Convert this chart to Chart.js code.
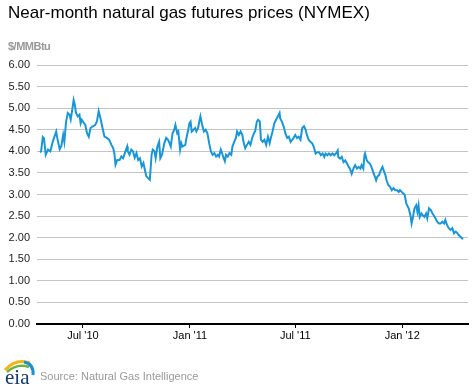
<!DOCTYPE html>
<html>
<head>
<meta charset="utf-8">
<script src="https://cdn.jsdelivr.net/npm/chart.js@4.4.1/dist/chart.umd.min.js"></script>
<style>
    html, body { margin: 0; padding: 0; background: #fff; }
    #wrap { position: relative; width: 472px; height: 386px; overflow: hidden; font-family: Arial, "Liberation Sans", sans-serif; }
    #chart { position: absolute; left: 0; top: 0; }
    .title { position: absolute; left: 8px; top: 3px; font-size: 17px; color: #000; white-space: nowrap; }
    .unit { position: absolute; left: 8px; top: 40px; font-size: 11px; font-weight: bold; color: #999; letter-spacing: -0.5px; }
    .source { position: absolute; left: 40px; top: 370px; font-size: 11px; color: #999; }
    .logo { position: absolute; left: 2px; top: 358px; }
</style>
</head>
<body>
<div id="wrap">
    <canvas id="chart" width="472" height="386"></canvas>
    <div class="title">Near-month natural gas futures prices (NYMEX)</div>
    <div class="unit">$/MMBtu</div>
    <svg class="logo" width="34" height="28" viewBox="0 0 34 28">
        <path d="M3 12 Q14 0 28 5" stroke="#f2b31c" stroke-width="3" fill="none"/>
        <path d="M5 14 Q15 5 27 9" stroke="#6cb33f" stroke-width="2.5" fill="none"/>
        <path d="M22 4 Q32 6 31 17" stroke="#1b8fd2" stroke-width="3" fill="none"/>
        <text x="3" y="26" font-family="Liberation Serif, DejaVu Serif, serif" font-size="21" fill="#12386e">eia</text>
    </svg>
    <div class="source">Source: Natural Gas Intelligence</div>
</div>
<script>
// days counted from 13 Apr 2010, prices in $/MMBtu
const days = [
    5, 7, 10, 12, 15, 19, 23, 27, 33, 35,
    39, 42, 45, 47, 50, 53, 56, 58, 61, 63,
    65, 67, 70, 73, 75, 77, 81, 83, 86, 89,
    92, 96, 100, 103, 106, 109, 112, 116, 120, 124,
    128, 131, 133, 135, 138, 142, 145, 148, 151, 155,
    156, 159, 162, 165, 168, 171, 174, 177, 180, 183,
    186, 188, 191, 194, 197, 199, 202, 204, 207, 210,
    212, 215, 219, 222, 225, 227, 230, 233, 236, 238,
    241, 243, 246, 248, 250, 255, 257, 260, 262, 264,
    266, 269, 272, 274, 277, 279, 281, 284, 287, 290,
    293, 296, 299, 302, 305, 308, 311, 313, 316, 319,
    321, 323, 325, 328, 331, 334, 336, 339, 342, 344,
    347, 350, 353, 355, 358, 361, 364, 367, 370, 373,
    375, 378, 380, 383, 385, 388, 391, 394, 397, 400,
    402, 405, 408, 411, 414, 417, 418, 421, 424, 427,
    430, 433, 436, 439, 441, 444, 447, 450, 453, 456,
    459, 462, 464, 467, 470, 473, 476, 479, 482, 485,
    488, 491, 494, 496, 499, 502, 505, 508, 511, 514,
    517, 518, 521, 524, 527, 530, 533, 536, 538, 541,
    544, 547, 550, 553, 556, 558, 561, 563, 564, 567,
    569, 572, 575, 578, 581, 583, 585, 588, 591, 594,
    596, 599, 601, 604, 607, 610, 613, 616, 619, 622,
    624, 627, 630, 632, 635, 639, 642, 644, 646, 649,
    652, 654, 656, 658, 661, 663, 666, 669, 671, 674,
    677, 680, 682, 685, 688, 691, 694, 697, 700, 702,
    705, 708, 711, 714, 717, 720, 723, 725, 728, 731,
    733
];

const prices = [
    3.98, 4.00, 4.33, 4.30, 3.92, 4.04, 4.00, 4.22, 4.46, 4.30,
    4.05, 4.13, 4.38, 4.22, 4.69, 4.89, 4.85, 4.74, 5.00, 5.19,
    5.08, 4.89, 4.81, 4.85, 4.65, 4.73, 4.65, 4.61, 4.42, 4.34,
    4.54, 4.58, 4.61, 4.69, 4.93, 4.77, 4.58, 4.34, 4.31, 4.27,
    4.15, 4.07, 3.96, 3.69, 3.80, 3.80, 3.88, 3.84, 3.96, 4.11,
    4.00, 3.92, 4.04, 4.00, 3.85, 3.96, 3.80, 3.84, 3.65, 3.73,
    3.54, 3.42, 3.38, 3.34, 3.92, 4.04, 4.00, 3.84, 4.11, 4.22,
    3.84, 3.92, 4.19, 4.31, 4.27, 4.22, 4.11, 4.42, 4.50, 4.61,
    4.42, 4.46, 4.04, 4.19, 4.11, 4.15, 4.31, 4.50, 4.65, 4.69,
    4.46, 4.50, 4.54, 4.46, 4.54, 4.69, 4.81, 4.61, 4.46, 4.50,
    4.42, 4.19, 4.00, 3.92, 3.96, 3.88, 3.92, 3.88, 4.04, 3.92,
    3.84, 3.77, 3.92, 3.88, 3.96, 3.92, 4.11, 4.22, 4.31, 4.46,
    4.38, 4.46, 4.38, 4.22, 4.07, 4.15, 4.22, 4.15, 4.31, 4.42,
    4.46, 4.69, 4.73, 4.69, 4.27, 4.22, 4.27, 4.15, 4.34, 4.19,
    4.31, 4.46, 4.65, 4.73, 4.81, 4.89, 4.77, 4.69, 4.58, 4.42,
    4.31, 4.34, 4.22, 4.27, 4.31, 4.38, 4.31, 4.34, 4.27, 4.54,
    4.58, 4.50, 4.38, 4.27, 4.22, 4.19, 4.10, 3.95, 3.98, 3.98,
    3.91, 3.95, 3.87, 3.95, 3.91, 3.95, 3.91, 3.95, 3.91, 3.95,
    4.02, 3.87, 3.83, 3.87, 3.75, 3.79, 3.72, 3.64, 3.60, 3.48,
    3.60, 3.68, 3.60, 3.64, 3.60, 3.68, 3.60, 3.91, 3.95, 3.79,
    3.75, 3.72, 3.64, 3.52, 3.41, 3.33, 3.41, 3.45, 3.56, 3.64,
    3.56, 3.45, 3.33, 3.22, 3.18, 3.10, 3.15, 3.10, 3.10, 3.06,
    3.10, 3.06, 3.02, 3.00, 2.79, 2.68, 2.52, 2.33, 2.45, 2.68,
    2.75, 2.60, 2.75, 2.48, 2.56, 2.52, 2.48, 2.56, 2.45, 2.68,
    2.64, 2.56, 2.52, 2.45, 2.37, 2.33, 2.33, 2.37, 2.33, 2.41,
    2.29, 2.22, 2.18, 2.22, 2.10, 2.14, 2.10, 2.06, 2.02, 1.98,
    1.98
];

// x axis labels (1 Jul 2010, 1 Jan 2011, 1 Jul 2011, 1 Jan 2012)
const tickDays = [79, 263, 444, 628];
const tickLabels = ["Jul '10", "Jan '11", "Jul '11", "Jan '12"];

const points = days.map((d, i) => ({ x: d, y: prices[i] }));

const ctx = document.getElementById('chart').getContext('2d');
new Chart(ctx, {
    type: 'line',
    data: {
        datasets: [{
            data: points,
            borderColor: '#1a96d6',
            borderWidth: 2,
            pointRadius: 0,
            tension: 0,
            fill: false
        }]
    },
    options: {
        responsive: false,
        animation: false,
        layout: { padding: { top: 65, right: 4, left: 0, bottom: 0 } },
        plugins: { legend: { display: false }, tooltip: { enabled: false } },
        scales: {
            x: {
                type: 'linear',
                min: 0,
                max: 741,
                afterBuildTicks: scale => {
                    scale.ticks = tickDays.map(v => ({ value: v }));
                },
                afterFit: scale => { scale.height = 62; },
                grid: { drawOnChartArea: false, drawTicks: true, tickLength: 4, color: '#000' },
                border: { display: true, color: '#000', width: 2 },
                ticks: {
                    autoSkip: false,
                    maxRotation: 0,
                    padding: 1,
                    color: '#000',
                    font: { family: 'Arial, "Liberation Sans", sans-serif', size: 11 },
                    callback: v => tickLabels[tickDays.indexOf(v)]
                }
            },
            y: {
                min: 0,
                max: 6,
                afterFit: scale => { scale.width = 37; },
                grid: { color: '#c4c4c4', lineWidth: 1, drawTicks: false },
                border: { display: false },
                ticks: {
                    stepSize: 0.5,
                    padding: 7,
                    color: '#222',
                    font: { family: 'Arial, "Liberation Sans", sans-serif', size: 11 },
                    callback: v => v.toFixed(2)
                }
            }
        }
    }
});
</script>
</body>
</html>
